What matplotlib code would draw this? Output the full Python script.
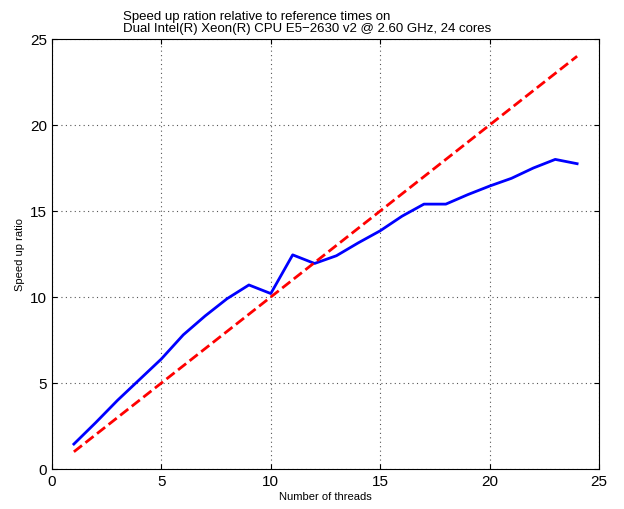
import matplotlib
matplotlib.use("Agg")
import matplotlib.pyplot as plt

threads = list(range(1, 25))
speedup = [1.45, 2.7, 4.0, 5.2, 6.4, 7.8, 8.9, 9.9, 10.7, 10.2, 12.45, 11.95,
           12.4, 13.15, 13.85, 14.7, 15.4, 15.4, 15.95, 16.45, 16.9, 17.5, 18.0, 17.75]
ideal = threads

plt.rcParams['font.family'] = ['Liberation Sans', 'DejaVu Sans']
fig = plt.figure(figsize=(6.24, 5.10), dpi=100)
ax = fig.add_axes([52/624, 40/510, 547/624, 430/510])
ax.plot(threads, speedup, color='#0000ff', lw=2)
ax.plot(threads, ideal, color='#ff0000', lw=2, ls='--')
ax.set_xlim(0, 25)
ax.set_ylim(0, 25)
ax.set_xticks([0, 5, 10, 15, 20, 25])
ax.set_yticks([0, 5, 10, 15, 20, 25])
ax.tick_params(direction='in', labelsize=11, top=True, right=True)
ax.grid(True, ls=(0, (1, 3)), color='#555555', lw=0.8)
ax.set_axisbelow(True)
ax.set_xlabel('Number of threads', fontsize=8, labelpad=2)
ax.set_ylabel('Speed up ratio', fontsize=8)
ax.set_title('Speed up ration relative to reference times on\nDual Intel(R) Xeon(R) CPU E5\u22122630 v2 @ 2.60 GHz, 24 cores',
             fontsize=9.5, loc='left', x=0.13, pad=6, linespacing=1.0)
fig.savefig('out.png')
